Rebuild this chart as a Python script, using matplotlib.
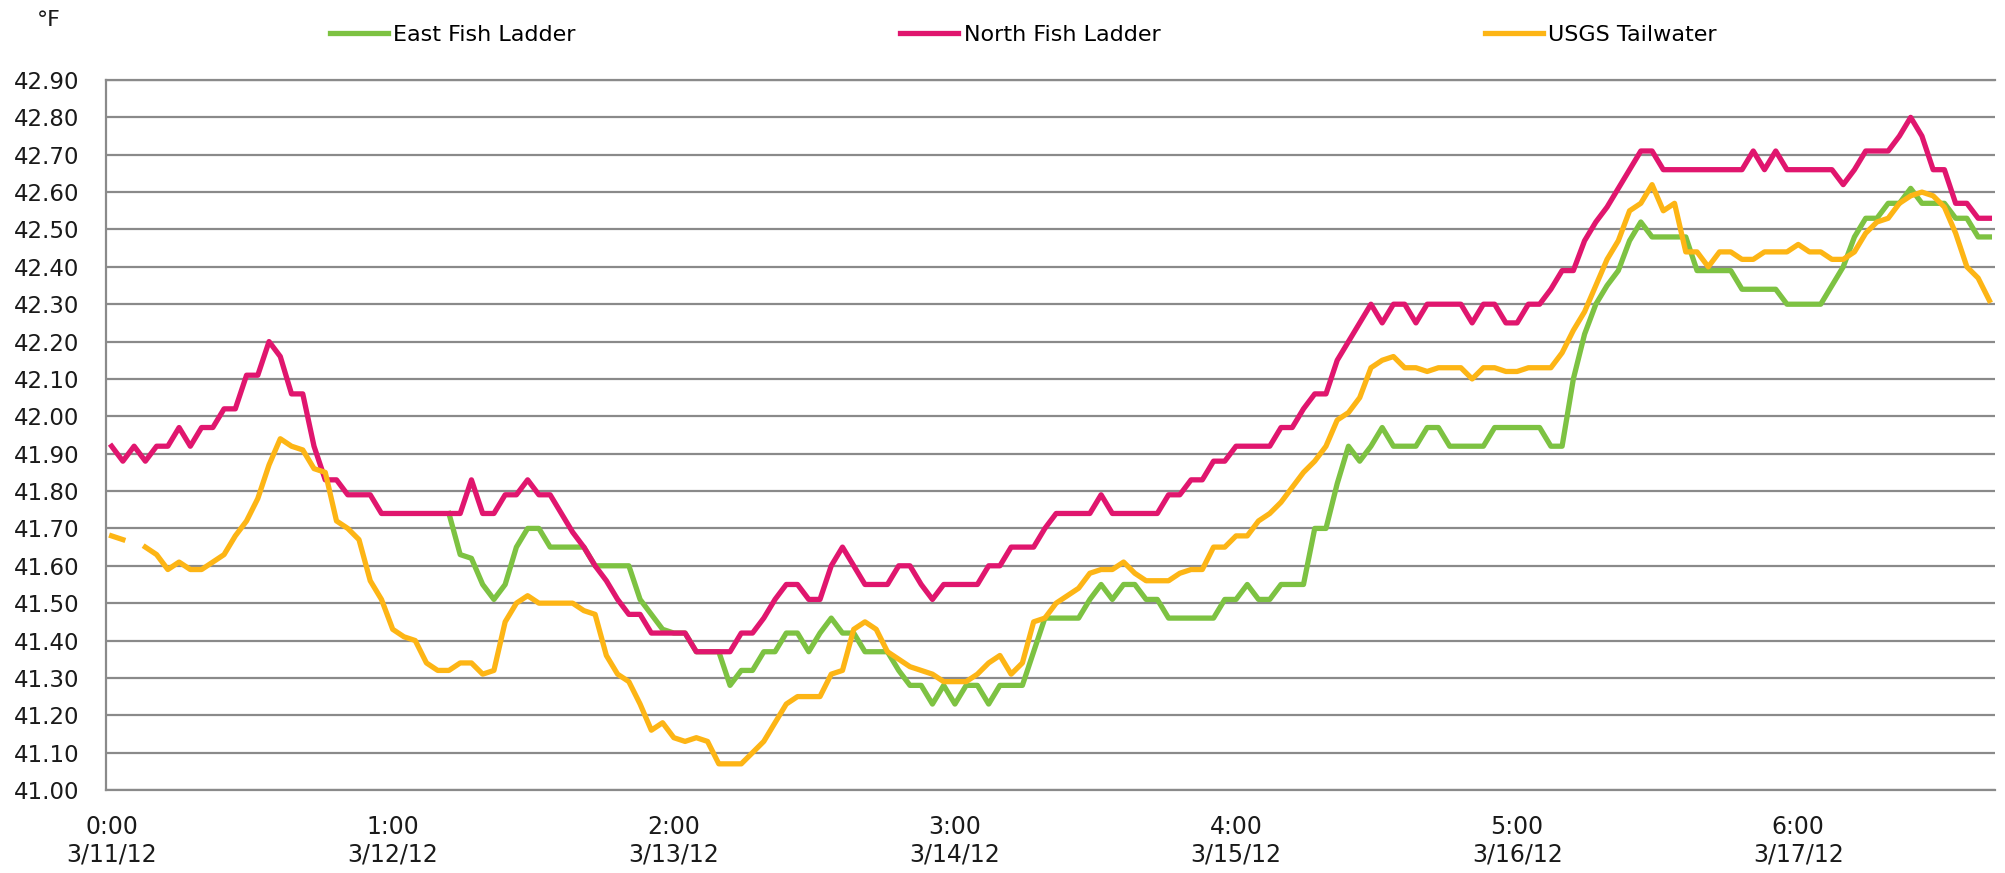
import numpy as np
import matplotlib as mpl
mpl.use('agg')
import matplotlib.pyplot as plt

# hourly readings, 3/11/12 0:00 .. 3/17/12 23:00 (168 points), None = missing
north = [
    41.92, 41.88, 41.92, 41.88, 41.92, 41.92, 41.97, 41.92, 41.97, 41.97,
    42.02, 42.02, 42.11, 42.11, 42.20, 42.16, 42.06, 42.06, 41.92, 41.83,
    41.83, 41.79, 41.79, 41.79, 41.74, 41.74, 41.74, 41.74, 41.74, 41.74,
    41.74, 41.74, 41.83, 41.74, 41.74, 41.79, 41.79, 41.83, 41.79, 41.79,
    41.74, 41.69, 41.65, 41.60, 41.56, 41.51, 41.47, 41.47, 41.42, 41.42,
    41.42, 41.42, 41.37, 41.37, 41.37, 41.37, 41.42, 41.42, 41.46, 41.51,
    41.55, 41.55, 41.51, 41.51, 41.60, 41.65, 41.60, 41.55, 41.55, 41.55,
    41.60, 41.60, 41.55, 41.51, 41.55, 41.55, 41.55, 41.55, 41.60, 41.60,
    41.65, 41.65, 41.65, 41.70, 41.74, 41.74, 41.74, 41.74, 41.79, 41.74,
    41.74, 41.74, 41.74, 41.74, 41.79, 41.79, 41.83, 41.83, 41.88, 41.88,
    41.92, 41.92, 41.92, 41.92, 41.97, 41.97, 42.02, 42.06, 42.06, 42.15,
    42.20, 42.25, 42.30, 42.25, 42.30, 42.30, 42.25, 42.30, 42.30, 42.30,
    42.30, 42.25, 42.30, 42.30, 42.25, 42.25, 42.30, 42.30, 42.34, 42.39,
    42.39, 42.47, 42.52, 42.56, 42.61, 42.66, 42.71, 42.71, 42.66, 42.66,
    42.66, 42.66, 42.66, 42.66, 42.66, 42.66, 42.71, 42.66, 42.71, 42.66,
    42.66, 42.66, 42.66, 42.66, 42.62, 42.66, 42.71, 42.71, 42.71, 42.75,
    42.80, 42.75, 42.66, 42.66, 42.57, 42.57, 42.53, 42.53,
]

east = [None] * 30 + [
    41.74, 41.63, 41.62, 41.55, 41.51, 41.55, 41.65, 41.70, 41.70, 41.65,
    41.65, 41.65, 41.65, 41.60, 41.60, 41.60, 41.60, 41.51, 41.47, 41.43,
    41.42, 41.42, 41.37, 41.37, 41.37, 41.28, 41.32, 41.32, 41.37, 41.37,
    41.42, 41.42, 41.37, 41.42, 41.46, 41.42, 41.42, 41.37, 41.37, 41.37,
    41.32, 41.28, 41.28, 41.23, 41.28, 41.23, 41.28, 41.28, 41.23, 41.28,
    41.28, 41.28, 41.37, 41.46, 41.46, 41.46, 41.46, 41.51, 41.55, 41.51,
    41.55, 41.55, 41.51, 41.51, 41.46, 41.46, 41.46, 41.46, 41.46, 41.51,
    41.51, 41.55, 41.51, 41.51, 41.55, 41.55, 41.55, 41.70, 41.70, 41.82,
    41.92, 41.88, 41.92, 41.97, 41.92, 41.92, 41.92, 41.97, 41.97, 41.92,
    41.92, 41.92, 41.92, 41.97, 41.97, 41.97, 41.97, 41.97, 41.92, 41.92,
    42.10, 42.22, 42.30, 42.35, 42.39, 42.47, 42.52, 42.48, 42.48, 42.48,
    42.48, 42.39, 42.39, 42.39, 42.39, 42.34, 42.34, 42.34, 42.34, 42.30,
    42.30, 42.30, 42.30, 42.35, 42.40, 42.48, 42.53, 42.53, 42.57, 42.57,
    42.61, 42.57, 42.57, 42.57, 42.53, 42.53, 42.48, 42.48,
]

usgs = [
    41.68, 41.67, None, 41.65, 41.63, 41.59, 41.61, 41.59, 41.59, 41.61,
    41.63, 41.68, 41.72, 41.78, 41.87, 41.94, 41.92, 41.91, 41.86, 41.85,
    41.72, 41.70, 41.67, 41.56, 41.51, 41.43, 41.41, 41.40, 41.34, 41.32,
    41.32, 41.34, 41.34, 41.31, 41.32, 41.45, 41.50, 41.52, 41.50, 41.50,
    41.50, 41.50, 41.48, 41.47, 41.36, 41.31, 41.29, 41.23, 41.16, 41.18,
    41.14, 41.13, 41.14, 41.13, 41.07, 41.07, 41.07, 41.10, 41.13, 41.18,
    41.23, 41.25, 41.25, 41.25, 41.31, 41.32, 41.43, 41.45, 41.43, 41.37,
    41.35, 41.33, 41.32, 41.31, 41.29, 41.29, 41.29, 41.31, 41.34, 41.36,
    41.31, 41.34, 41.45, 41.46, 41.50, 41.52, 41.54, 41.58, 41.59, 41.59,
    41.61, 41.58, 41.56, 41.56, 41.56, 41.58, 41.59, 41.59, 41.65, 41.65,
    41.68, 41.68, 41.72, 41.74, 41.77, 41.81, 41.85, 41.88, 41.92, 41.99,
    42.01, 42.05, 42.13, 42.15, 42.16, 42.13, 42.13, 42.12, 42.13, 42.13,
    42.13, 42.10, 42.13, 42.13, 42.12, 42.12, 42.13, 42.13, 42.13, 42.17,
    42.23, 42.28, 42.35, 42.42, 42.47, 42.55, 42.57, 42.62, 42.55, 42.57,
    42.44, 42.44, 42.40, 42.44, 42.44, 42.42, 42.42, 42.44, 42.44, 42.44,
    42.46, 42.44, 42.44, 42.42, 42.42, 42.44, 42.49, 42.52, 42.53, 42.57,
    42.59, 42.60, 42.59, 42.56, 42.49, 42.40, 42.37, 42.31,
]

# category axis: a label every 25 readings
tick_idx = [0, 25, 50, 75, 100, 125, 150]
tick_labels = ['0:00\n3/11/12', '1:00\n3/12/12', '2:00\n3/13/12', '3:00\n3/14/12',
               '4:00\n3/15/12', '5:00\n3/16/12', '6:00\n3/17/12']

if __name__ == "__main__":
    x = np.arange(len(north))
    east_v = np.array(east, dtype=float)
    north_v = np.array(north, dtype=float)
    usgs_v = np.array(usgs, dtype=float)

    fig = plt.figure(figsize=(20.06, 8.73), dpi=100)
    ax = fig.add_axes([106 / 2006, 1 - 790 / 873, (1995 - 106) / 2006, 710 / 873])

    lw = 3.8
    ax.plot(x, east_v, color='#7DC242', lw=lw, solid_joinstyle='round', label='East Fish Ladder')
    ax.plot(x, north_v, color='#E0166E', lw=lw, solid_joinstyle='round', label='North Fish Ladder')
    ax.plot(x, usgs_v, color='#FDB515', lw=lw, solid_joinstyle='round', label='USGS Tailwater')

    ax.set_xlim(-0.5, len(north) - 0.5)
    ax.set_ylim(41.0, 42.9)
    ax.set_yticks(np.round(np.arange(41.0, 42.91, 0.1), 2))
    ax.set_yticklabels(['%.2f' % v for v in np.arange(41.0, 42.91, 0.1)])
    ax.set_xticks(tick_idx)
    ax.set_xticklabels(tick_labels)
    ax.yaxis.grid(True, color='#8a8a8a', lw=1.6)
    ax.set_axisbelow(True)

    for s in ['right']:
        ax.spines[s].set_visible(False)
    for s in ['left', 'top', 'bottom']:
        ax.spines[s].set_color('#8a8a8a')
        ax.spines[s].set_linewidth(1.6)

    ax.tick_params(axis='y', length=0, pad=19, labelsize=16.5, labelcolor='#1a1a1a')
    ax.tick_params(axis='x', length=0, pad=18, labelsize=17, labelcolor='#1a1a1a')

    fig.text(49 / 2006, 1 - 20 / 873, '°F', ha='center', va='center', fontsize=16, color='#1a1a1a')

    fig.legend(loc='center left', bbox_to_anchor=(330 / 2006, 1 - 35 / 873), ncol=3,
               frameon=False, fontsize=16, handlelength=2.6, handletextpad=0.25,
               columnspacing=14.6, borderpad=0, borderaxespad=0)

    plt.savefig('out.png', dpi=100)
